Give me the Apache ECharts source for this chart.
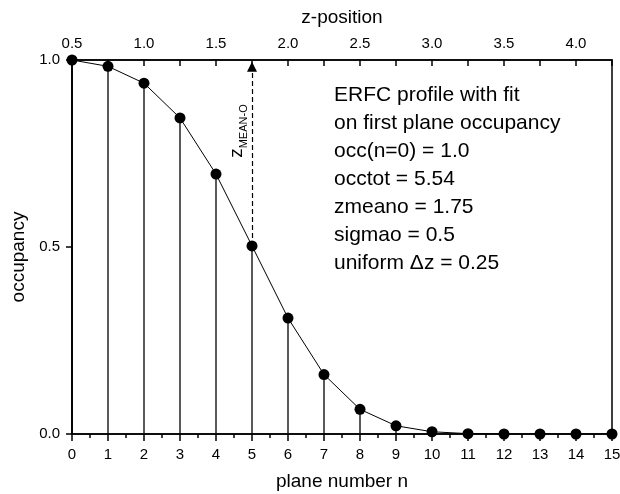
<!DOCTYPE html>
<html>
<head>
<meta charset="utf-8">
<script src="https://cdn.jsdelivr.net/npm/echarts@6/dist/echarts.min.js"></script>
<style>
html,body{margin:0;padding:0;background:#fff;}
#chart{width:620px;height:494px;}
</style>
</head>
<body>
<div id="chart"></div>
<script>
// ---- data ----
var planeNumbers = [0,1,2,3,4,5,6,7,8,9,10,11,12,13,14,15];
var occupancy = [1.0,0.983,0.938,0.845,0.695,0.503,0.31,0.159,0.066,0.022,0.006,0.001,0,0,0,0];
var bottomTicks = [0,1,2,3,4,5,6,7,8,9,10,11,12,13,14,15];
var topTickLabels = ['0.5','1.0','1.5','2.0','2.5','3.0','3.5','4.0'];
var yTickLabels = ['0.0','0.5','1.0'];
var zMeanPlane = 5;
var infoLines = [
  'ERFC profile with fit',
  'on first plane occupancy',
  'occ(n=0) = 1.0',
  'occtot = 5.54',
  'zmeano = 1.75',
  'sigmao = 0.5',
  'uniform \u0394z = 0.25'
];

var pts = planeNumbers.map(function(n,i){return [n, occupancy[i]];});
var meanIdx = planeNumbers.indexOf(zMeanPlane);

var FONT = 'Liberation Sans, Arial, sans-serif';
var chart = echarts.init(document.getElementById('chart'), null, {renderer:'canvas'});
var option = {
  backgroundColor:'#fff',
  animation:false,
  title:{
    text: infoLines.join('\n'),
    left: 334, top: 81, padding: 0,
    textStyle:{fontFamily:FONT, fontSize:21, fontWeight:'normal', color:'#000', lineHeight:28}
  },
  grid:{left:72, right:8, top:60, bottom:60, containLabel:false, outerBoundsMode:'none',
    show:true, borderColor:'#000', borderWidth:1.5, backgroundColor:'transparent'},
  xAxis:[{
    type:'value', position:'bottom', min:0, max:15, interval:1,
    name:'plane number n', nameLocation:'middle', nameGap:38,
    nameTextStyle:{fontFamily:FONT, fontSize:19, color:'#000'},
    axisLine:{show:true, lineStyle:{color:'#000', width:1.5}},
    axisTick:{show:true, inside:false, length:7, lineStyle:{color:'#000', width:1.5}},
    minorTick:{show:true, splitNumber:2, length:4, lineStyle:{color:'#000', width:1.5}},
    splitLine:{show:false},
    axisLabel:{fontFamily:FONT, fontSize:15, color:'#000', margin:13,
      formatter:function(v){var i=bottomTicks.indexOf(v);return i>=0?String(bottomTicks[i]):'';}}
  },{
    type:'value', position:'top', min:0.5, max:4.25, interval:0.25,
    name:'z-position', nameLocation:'middle', nameGap:33,
    nameTextStyle:{fontFamily:FONT, fontSize:19, color:'#000'},
    axisLine:{show:true, lineStyle:{color:'#000', width:1.5}},
    axisTick:{show:true, inside:true, length:6, lineStyle:{color:'#000', width:1.5}},
    splitLine:{show:false},
    axisLabel:{fontFamily:FONT, fontSize:15, color:'#000', margin:9,
      formatter:function(v){var s=v.toFixed(1);return (Math.abs(v*2-Math.round(v*2))<1e-6 && topTickLabels.indexOf(s)>=0)?s:'';}}
  }],
  yAxis:[{
    type:'value', min:0, max:1, interval:0.5,
    name:'occupancy', nameLocation:'middle', nameGap:41,
    nameTextStyle:{fontFamily:FONT, fontSize:19, color:'#000', padding:[0,0,0,-20]},
    axisLine:{show:true, lineStyle:{color:'#000', width:1.5}},
    axisTick:{show:true, inside:false, length:6, lineStyle:{color:'#000', width:1.5}},
    splitLine:{show:false},
    axisLabel:{fontFamily:FONT, fontSize:15, color:'#000', margin:12,
      formatter:function(v){return yTickLabels[Math.round(v*2)];}}
  }],
  series:[{
    type:'custom', xAxisIndex:0, yAxisIndex:0, silent:true, z:2,
    data: pts,
    renderItem:function(params, api){
      var n = api.value(0), v = api.value(1);
      var p0 = api.coord([n,0]), p1 = api.coord([n,v]);
      return {type:'line', shape:{x1:p0[0],y1:p0[1],x2:p1[0],y2:p1[1]},
        style:{stroke:'#000', lineWidth:1.3}};
    }
  },{
    type:'line', xAxisIndex:0, yAxisIndex:0, data: pts, z:3,
    symbol:'circle', symbolSize:11, showSymbol:true,
    lineStyle:{color:'#000', width:1},
    itemStyle:{color:'#000'},
    markLine:{
      silent:true, symbol:['none','triangle'], symbolSize:10,
      lineStyle:{color:'#000', type:[5,3], width:1.2},
      itemStyle:{color:'#000'},
      label:{show:false},
      data:[[{coord:[zMeanPlane, occupancy[meanIdx]]},{coord:[zMeanPlane, 0.982]}]]
    },
    markPoint:{
      silent:true, symbol:'circle', symbolSize:0,
      data:[{coord:[4.53, 0.81]}],
      label:{show:true, rotate:90, position:'inside', color:'#000', fontFamily:FONT,
        formatter:'{a|z}{b|MEAN-O}',
        rich:{a:{fontSize:19, fontFamily:FONT, color:'#000', lineHeight:22, verticalAlign:'bottom'},
              b:{fontSize:11, fontFamily:FONT, color:'#000', lineHeight:22, verticalAlign:'bottom', padding:[0,0,-3,0]}}}
    }
  }]
};
chart.setOption(option);
</script>
</body>
</html>
